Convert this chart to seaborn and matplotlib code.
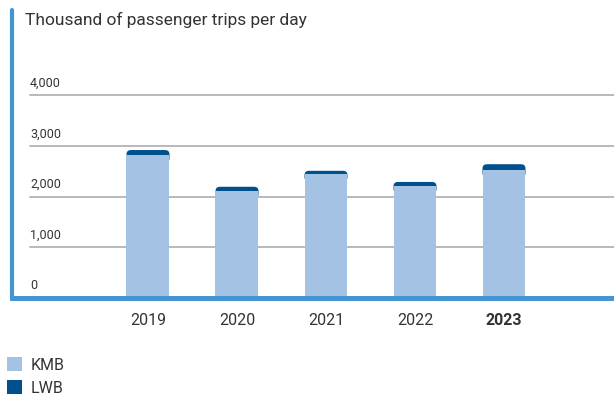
import matplotlib
matplotlib.use("Agg")
import matplotlib.pyplot as plt
import seaborn as sns
import pandas as pd
from matplotlib.patches import FancyBboxPatch, Patch

# Data (thousand passenger trips per day)
years = ["2019", "2020", "2021", "2022", "2023"]
kmb = [2820, 2115, 2450, 2215, 2530]
lwb = [100, 80, 60, 75, 110]
yticks = [0, 1000, 2000, 3000, 4000]

light = "#a3c2e4"
dark = "#00508e"
axis_blue = "#4595d2"
text_col = "#333333"

df = pd.DataFrame({"year": years, "KMB": kmb, "LWB": lwb})
df["total"] = df["KMB"] + df["LWB"]

sns.set_style("white")
plt.rcParams["font.family"] = ["Roboto", "DejaVu Sans"]

fig = plt.figure(figsize=(6.14, 3.98), dpi=100)
ax = fig.add_axes([12 / 614, (398 - 298) / 398, 602 / 614, (298 - 10) / 398])

# stacked bars: KMB light blue, LWB dark blue cap with rounded top
sns.barplot(data=df, x="year", y="KMB", color=light, saturation=1, width=0.483,
            linewidth=0, ax=ax)
for p, top in zip(list(ax.patches), df["total"]):
    p.set_zorder(3)
    p.set_edgecolor("none")
    base = p.get_height() - 150  # tuck the cap's lower corners under the KMB bar
    rb = FancyBboxPatch((p.get_x(), base), p.get_width(), top - base,
                        boxstyle="round,pad=0,rounding_size=0.05", mutation_aspect=1700,
                        facecolor=dark, edgecolor="none", zorder=1.5)
    ax.add_patch(rb)

ax.set_xlim(-1.528, 5.236)
ax.set_ylim(0, 5683)

# gridlines and y labels
x0 = (30 - 12) / 602
for v in yticks:
    if v > 0:
        ax.axhline(v, xmin=x0, xmax=1, color="#b3b3b3", lw=1.3, zorder=1)
    ax.annotate(f"{v:,}", xy=(x0, v), xycoords=("axes fraction", "data"),
                xytext=(0, 4), textcoords="offset points", fontsize=9,
                color=text_col, ha="left", va="bottom")

ax.set_yticks([])
ax.set_xlabel("")
ax.set_ylabel("")
ax.tick_params(axis="x", length=0, pad=11, labelsize=11.5, labelcolor=text_col)
for lab in ax.get_xticklabels():
    if lab.get_text() == "2023":
        lab.set_fontweight("bold")

for s in ["top", "right"]:
    ax.spines[s].set_visible(False)
ax.spines["left"].set_color(axis_blue)
ax.spines["left"].set_linewidth(3)
ax.spines["left"].set_capstyle("round")
ax.spines["bottom"].set_color(axis_blue)
ax.spines["bottom"].set_linewidth(3.6)
ax.spines["bottom"].set_zorder(4)

fig.text(25 / 614, 1 - 20 / 398, "Thousand of passenger trips per day",
         fontsize=12.5, color=text_col, va="center", ha="left")

handles = [Patch(facecolor=light, edgecolor="none", label="KMB"),
           Patch(facecolor=dark, edgecolor="none", label="LWB")]
fig.legend(handles=handles, loc="lower left", bbox_to_anchor=(-0.012, -0.03),
           frameon=False, fontsize=11.5, handlelength=0.95, handleheight=1.0,
           handletextpad=0.55, labelspacing=0.45, labelcolor=text_col)

fig.savefig("out.png", dpi=100)
